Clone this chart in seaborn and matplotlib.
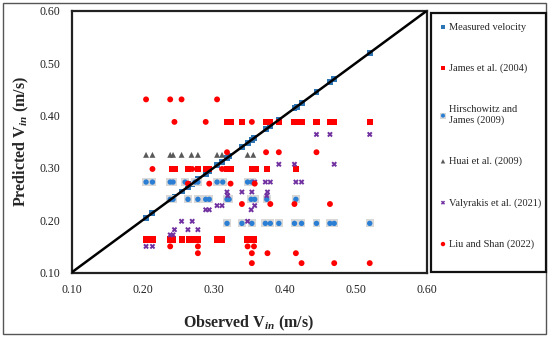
import matplotlib
matplotlib.use('Agg')
import matplotlib.pyplot as plt
import seaborn as sns
import pandas as pd
from matplotlib.patches import Rectangle

# ---------------- data ----------------
observed = [0.205, 0.214, 0.239, 0.243, 0.245, 0.255, 0.264, 0.270, 0.274, 0.278,
            0.289, 0.294, 0.305, 0.312, 0.319, 0.322, 0.340, 0.348, 0.354, 0.357,
            0.374, 0.380, 0.392, 0.414, 0.417, 0.424, 0.445, 0.464, 0.470, 0.520]

james_levels = [0.388, 0.298, 0.163]
james_obs = [
    [0.319, 0.325, 0.340, 0.374, 0.380, 0.392, 0.414, 0.424, 0.445, 0.464, 0.470, 0.520],
    [0.241, 0.245, 0.264, 0.278, 0.289, 0.294, 0.319, 0.325, 0.355, 0.359, 0.375, 0.416],
    [0.205, 0.214, 0.239, 0.243, 0.256, 0.265, 0.271, 0.278, 0.305, 0.312, 0.348, 0.357],
]

hirsch_levels = [0.273, 0.240, 0.194]
hirsch_obs = [
    [0.205, 0.214, 0.239, 0.243, 0.260, 0.274, 0.278, 0.305, 0.313, 0.348, 0.354],
    [0.239, 0.243, 0.264, 0.278, 0.289, 0.294, 0.319, 0.322, 0.353, 0.358, 0.375, 0.416],
    [0.319, 0.340, 0.354, 0.373, 0.380, 0.392, 0.414, 0.424, 0.445, 0.464, 0.470, 0.520],
]

huai_levels = [0.325]
huai_obs = [
    [0.205, 0.214, 0.239, 0.243, 0.255, 0.269, 0.278, 0.305, 0.312, 0.348, 0.356],
]

valy_levels = [0.364, 0.307, 0.273, 0.254, 0.247, 0.228, 0.220, 0.198, 0.182, 0.172, 0.150]
valy_obs = [
    [0.445, 0.464, 0.520],
    [0.392, 0.414, 0.470],
    [0.358, 0.373, 0.380, 0.416, 0.424],
    [0.319, 0.340, 0.354, 0.376],
    [0.320, 0.375],
    [0.305, 0.312, 0.358],
    [0.289, 0.294, 0.353],
    [0.255, 0.270, 0.348],
    [0.245, 0.264, 0.278],
    [0.239, 0.243],
    [0.205, 0.214],
]

liu_levels = [0.431, 0.388, 0.330, 0.298, 0.270, 0.231, 0.150, 0.137, 0.118]
liu_obs = [
    [0.205, 0.239, 0.255, 0.305],
    [0.245, 0.289, 0.354],
    [0.319, 0.374, 0.392, 0.445],
    [0.214, 0.270, 0.312],
    [0.264, 0.294, 0.324, 0.358],
    [0.340, 0.380, 0.414, 0.464],
    [0.239, 0.278, 0.348, 0.357],
    [0.278, 0.354, 0.376, 0.416],
    [0.354, 0.424, 0.470, 0.520],
]

axis_ticks = [0.10, 0.20, 0.30, 0.40, 0.50, 0.60]


def expand(levels, groups):
    xs, ys = [], []
    for lev, grp in zip(levels, groups):
        for xv in grp:
            xs.append(xv)
            ys.append(lev)
    return pd.DataFrame({'obs': xs, 'pred': ys})


df_meas = pd.DataFrame({'obs': observed, 'pred': observed})
df_james = expand(james_levels, james_obs)
df_hirsch = expand(hirsch_levels, hirsch_obs)
df_huai = expand(huai_levels, huai_obs)
df_valy = expand(valy_levels, valy_obs)
df_liu = expand(liu_levels, liu_obs)

# ---------------- style ----------------
sns.set_style('white')
plt.rcParams['font.family'] = ['Liberation Serif', 'DejaVu Serif']
plt.rcParams['mathtext.fontset'] = 'custom'
plt.rcParams['mathtext.rm'] = 'Liberation Serif:bold'
plt.rcParams['mathtext.it'] = 'Liberation Serif:italic:bold'

fig = plt.figure(figsize=(5.5, 3.39), dpi=100)
ax = fig.add_axes([0.130, 0.196, 0.6455, 0.7716])

blue = '#2A7FD4'
red = '#FF0000'

sns.scatterplot(data=df_meas, x='obs', y='pred', marker='s', color='#2E75B6',
                s=18, edgecolor='none', ax=ax, legend=False, zorder=3)
h_meas = ax.collections[-1]
sns.scatterplot(data=df_james, x='obs', y='pred', marker='s', color=red,
                s=20, edgecolor='none', ax=ax, legend=False, zorder=3)
h_james = ax.collections[-1]
sns.scatterplot(data=df_hirsch, x='obs', y='pred', marker='s', color='#D8D8D8',
                s=32, edgecolor='none', ax=ax, legend=False, zorder=3)
h_hirsch_bg = ax.collections[-1]
sns.scatterplot(data=df_hirsch, x='obs', y='pred', marker='o', color=blue,
                s=15, edgecolor='none', ax=ax, legend=False, zorder=3)
h_hirsch = ax.collections[-1]
sns.scatterplot(data=df_huai, x='obs', y='pred', marker='^', color='#595959',
                s=18, edgecolor='none', ax=ax, legend=False, zorder=3)
h_huai = ax.collections[-1]
sns.scatterplot(data=df_valy, x='obs', y='pred', marker='X', color='#7030A0',
                s=16, edgecolor='none', ax=ax, legend=False, zorder=3)
h_valy = ax.collections[-1]
sns.scatterplot(data=df_liu, x='obs', y='pred', marker='o', color=red,
                s=18, edgecolor='none', ax=ax, legend=False, zorder=3)
h_liu = ax.collections[-1]

# 1:1 line
ax.plot([axis_ticks[0], axis_ticks[-1]], [axis_ticks[0], axis_ticks[-1]],
        color='black', lw=1.8, zorder=4)

ax.set_xlim(axis_ticks[0], axis_ticks[-1])
ax.set_ylim(axis_ticks[0], axis_ticks[-1])
ax.set_xticks(axis_ticks)
ax.set_yticks(axis_ticks)
ax.set_xticklabels([f'{t:.2f}' for t in axis_ticks])
ax.set_yticklabels([f'{t:.2f}' for t in axis_ticks])
ax.tick_params(axis='both', length=0, labelsize=8.5, pad=8, colors='#222222')

for sp in ax.spines.values():
    sp.set_visible(True)
    sp.set_color('#222222')
    sp.set_linewidth(1.6)

ax.set_xlabel('Observed V$_{in}$ (m/s)', fontsize=11.5, fontweight='bold', labelpad=13)
ax.set_ylabel('Predicted V$_{in}$ (m/s)', fontsize=11.5, fontweight='bold', labelpad=6)

handles = [h_meas, h_james, (h_hirsch_bg, h_hirsch), h_huai, h_valy, h_liu]
labels = ['Measured velocity', 'James et al. (2004)', 'Hirschowitz and\nJames (2009)',
          'Huai et al. (2009)', 'Valyrakis et al. (2021)', 'Liu and Shan (2022)']
leg = fig.legend(handles, labels, loc='upper left',
                 bbox_to_anchor=(431 / 550, 1 - 13 / 339, 115 / 550, 0.0),
                 bbox_transform=fig.transFigure, mode='expand',
                 frameon=False,
                 labelspacing=3.05, handletextpad=0.3, handlelength=0.5,
                 borderpad=0.9, borderaxespad=0, fontsize=7.5, markerscale=0.75)

# legend box
fig.patches.append(Rectangle((431 / 550, 1 - 272 / 339), 114.5 / 550, 259 / 339,
                             transform=fig.transFigure, fill=False,
                             edgecolor='#111111', lw=1.6, zorder=5))
# outer figure border
fig.patches.append(Rectangle((2.5 / 550, 1 - 334 / 339), 543.5 / 550, 331 / 339,
                             transform=fig.transFigure, fill=False,
                             edgecolor='#555555', lw=1.0))

fig.savefig('out.png', dpi=100)
